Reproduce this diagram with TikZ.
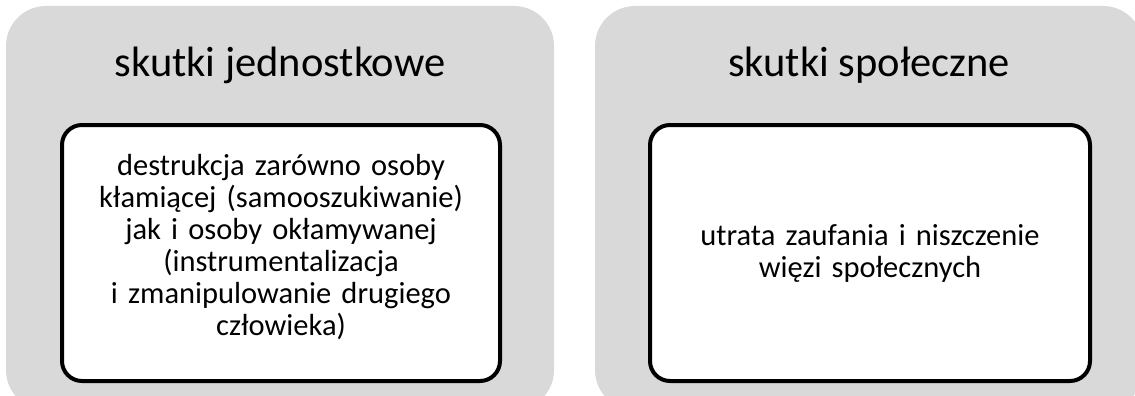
\documentclass[tikz,border=0pt]{standalone}
\usepackage{fontspec}
\setmainfont{Carlito}
\definecolor{panelgrey}{HTML}{D9D9D9}
\tikzset{
  panel/.style={fill=panelgrey, rounded corners=40pt},
  title/.style={font=\fontsize{42.5}{50}\selectfont, anchor=base, inner sep=0pt},
  inner/.style={draw=black, line width=4pt, fill=white, rounded corners=20pt},
  body/.style={font=\fontsize{30.5}{32}\selectfont, align=center, text width=430pt, inner sep=0pt}
}
\begin{document}
\begin{tikzpicture}[x=1pt,y=-1pt]
  \useasboundingbox (0,0) rectangle (1135,396);
  % grey panels, running past the lower edge
  \fill[panel] (6,6) rectangle (554,410);
  \fill[panel] (595,6) rectangle (1143,410);
  % titles
  \node[title] (t1) at (280,77) {skutki jednostkowe};
  \node[title] (t2) at (869,77) {skutki społeczne};
  % white content boxes
  \draw[inner] (62,125) rectangle (500,381);
  \draw[inner] (650,125) rectangle (1090,381);
  \node[body] (b1) at (281,247) {destrukcja zarówno osoby\\ kłamiącej (samooszukiwanie)\\ jak i osoby okłamywanej\\ (instrumentalizacja\\ i zmanipulowanie drugiego\\ człowieka)};
  \node[body] (b2) at (870,253) {utrata zaufania i niszczenie\\ więzi społecznych};
\end{tikzpicture}
\end{document}
